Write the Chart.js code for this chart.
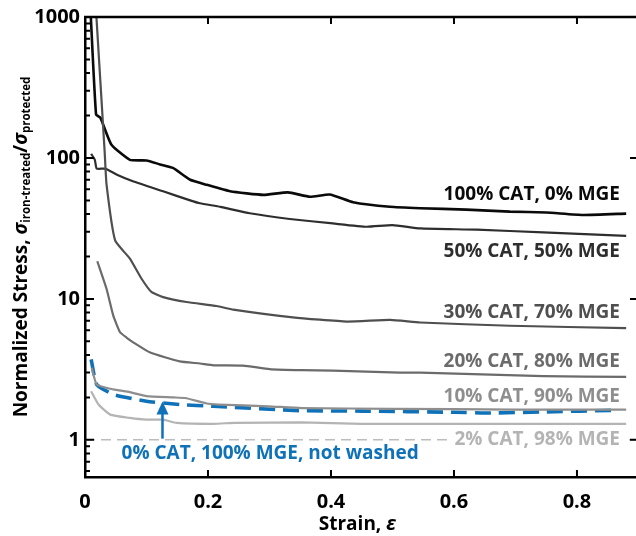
<!DOCTYPE html>
<html>
<head>
<meta charset="utf-8">
<title>Normalized stress vs strain</title>
<script src="https://cdn.jsdelivr.net/npm/chart.js@4/dist/chart.umd.min.js"></script>
<style>
  html, body { margin: 0; padding: 0; background: #fff; overflow: hidden; }
  canvas { display: block; }
</style>
</head>
<body>
<canvas id="stressChart" width="636" height="536"></canvas>
<script>
// Tick values
const strainTicks = [0, 0.2, 0.4, 0.6, 0.8];
const stressTicks = [1, 10, 100, 1000];

// 100% CAT, 0% MGE
const cat100Strain = [0.009, 0.018, 0.025, 0.043, 0.073, 0.100, 0.122, 0.143, 0.171, 0.198, 0.236, 0.290, 0.330, 0.366, 0.398, 0.436, 0.496, 0.545, 0.620, 0.691, 0.750, 0.810, 0.880];
const cat100Stress = [1100, 203, 193, 124, 97, 96, 90, 85, 70, 64.5, 58, 54.7, 57, 53, 55, 48.5, 45, 44, 43, 41.6, 41, 39.4, 40.3];

// 50% CAT, 50% MGE
const cat50Strain = [0.010, 0.016, 0.019, 0.033, 0.052, 0.079, 0.127, 0.171, 0.187, 0.220, 0.268, 0.333, 0.403, 0.458, 0.500, 0.545, 0.637, 0.745, 0.880];
const cat50Stress = [107, 97, 84, 84, 76, 68, 58, 50, 47.7, 45, 40.5, 36.9, 34.3, 32.5, 33.4, 31.6, 31, 29.6, 28];

// 30% CAT, 70% MGE
const cat30Strain = [0.018, 0.032, 0.035, 0.049, 0.073, 0.092, 0.108, 0.127, 0.165, 0.214, 0.241, 0.338, 0.426, 0.496, 0.545, 0.691, 0.880];
const cat30Stress = [1100, 110, 65, 26, 19.3, 13.9, 11.2, 10.3, 9.5, 8.9, 8.4, 7.4, 6.9, 7.1, 6.8, 6.45, 6.2];

// 20% CAT, 80% MGE
const cat20Strain = [0.020, 0.035, 0.046, 0.057, 0.068, 0.079, 0.106, 0.154, 0.187, 0.209, 0.257, 0.300, 0.352, 0.403, 0.512, 0.545, 0.745, 0.880];
const cat20Stress = [18.5, 11.8, 7.6, 5.8, 5.3, 4.9, 4.16, 3.6, 3.48, 3.38, 3.36, 3.18, 3.12, 3.1, 3.0, 3.0, 2.83, 2.8];

// 10% CAT, 90% MGE
const cat10Strain = [0.011, 0.019, 0.046, 0.073, 0.100, 0.144, 0.163, 0.198, 0.217, 0.298, 0.352, 0.500, 0.700, 0.880];
const cat10Stress = [3.25, 2.47, 2.28, 2.18, 2.04, 2.0, 1.98, 1.81, 1.78, 1.73, 1.68, 1.66, 1.64, 1.64];

// 2% CAT, 98% MGE
const cat2Strain = [0.010, 0.022, 0.041, 0.073, 0.100, 0.127, 0.149, 0.209, 0.244, 0.352, 0.450, 0.880];
const cat2Stress = [2.21, 1.78, 1.51, 1.43, 1.39, 1.39, 1.32, 1.30, 1.32, 1.33, 1.30, 1.30];

// 0% CAT, 100% MGE, not washed
const cat0Strain = [0.010, 0.019, 0.046, 0.100, 0.154, 0.209, 0.352, 0.450, 0.600, 0.660, 0.750, 0.863];
const cat0Stress = [3.73, 2.47, 2.10, 1.88, 1.78, 1.73, 1.61, 1.60, 1.57, 1.55, 1.58, 1.62];

// Right-hand labels
const seriesLabels = ['100% CAT, 0% MGE', '50% CAT, 50% MGE', '30% CAT, 70% MGE', '20% CAT, 80% MGE', '10% CAT, 90% MGE', '2% CAT, 98% MGE'];
const seriesLabelY = [54.7, 21.7, 8.04, 3.62, 2.04, 1.0];
const seriesColors = ['#0a0a0a', '#2e2e2e', '#4f4f4f', '#6b6b6b', '#8e8e8e', '#b4b4b4'];
const blueColor = '#0f72b8';
const blueLabel = '0% CAT, 100% MGE, not washed';

const toPoints = (xs, ys) => xs.map((x, i) => ({ x: x, y: ys[i] }));

// inward ticks, top frame, reference line, labels, arrow and axis titles
const decorations = {
    id: 'decorations',
    afterDatasetsDraw(chart) {
        const { ctx, chartArea: area, scales: { x, y } } = chart;
        ctx.save();

        // dashed reference line at 1
        const y1 = y.getPixelForValue(1);
        ctx.strokeStyle = '#bdbdbd';
        ctx.lineWidth = 1.5;
        ctx.setLineDash([10, 6]);
        ctx.beginPath();
        ctx.moveTo(area.left, y1);
        ctx.lineTo(area.right, y1);
        ctx.stroke();
        ctx.setLineDash([]);

        // series labels
        ctx.font = 'bold 19px "Open Sans"';
        ctx.textAlign = 'right';
        ctx.textBaseline = 'middle';
        const lx = x.getPixelForValue(0.87);
        seriesLabels.forEach((text, i) => {
            const ly = y.getPixelForValue(seriesLabelY[i]);
            if (i === seriesLabels.length - 1) {
                const w = ctx.measureText(text).width;
                ctx.fillStyle = '#fff';
                ctx.fillRect(lx - w - 5, ly - 6, w + 9, 12);
            }
            ctx.fillStyle = seriesColors[i];
            ctx.fillText(text, lx, ly);
        });

        // blue label and arrow
        ctx.fillStyle = blueColor;
        ctx.textAlign = 'center';
        ctx.fillText(blueLabel, x.getPixelForValue(0.301), y.getPixelForValue(0.8));
        const ax = x.getPixelForValue(0.126);
        const aTip = y.getPixelForValue(1.87);
        const aEnd = y.getPixelForValue(1.02);
        ctx.strokeStyle = blueColor;
        ctx.lineWidth = 2.5;
        ctx.beginPath();
        ctx.moveTo(ax, aEnd);
        ctx.lineTo(ax, aTip + 8);
        ctx.stroke();
        ctx.beginPath();
        ctx.moveTo(ax, aTip);
        ctx.lineTo(ax - 6, aTip + 13);
        ctx.lineTo(ax + 6, aTip + 13);
        ctx.closePath();
        ctx.fill();

        // frame top
        ctx.strokeStyle = '#000';
        ctx.lineWidth = 2.5;
        ctx.beginPath();
        ctx.moveTo(area.left - 1, area.top);
        ctx.lineTo(area.right, area.top);
        ctx.stroke();

        // ticks
        ctx.lineWidth = 2;
        ctx.beginPath();
        strainTicks.forEach(v => {
            if (v === 0) return;
            const px = x.getPixelForValue(v);
            ctx.moveTo(px, area.bottom);
            ctx.lineTo(px, area.bottom - 7);
            ctx.moveTo(px, area.top);
            ctx.lineTo(px, area.top + 7);
        });
        for (let d = 0.1; d <= 1000; d *= 10) {
            for (let m = 1; m <= 9; m++) {
                const v = d * m;
                if (v < y.min || v > y.max) continue;
                const py = y.getPixelForValue(v);
                const len = m === 1 ? 9 : 5;
                ctx.moveTo(area.left, py);
                ctx.lineTo(area.left + len, py);
                if (m === 1) {
                    ctx.moveTo(area.right, py);
                    ctx.lineTo(area.right - 6, py);
                }
            }
        }
        ctx.stroke();

        // x title
        ctx.fillStyle = '#000';
        ctx.textAlign = 'center';
        ctx.textBaseline = 'middle';
        ctx.font = 'bold 19px "Open Sans"';
        ctx.fillText('Strain, ', (area.left + area.right) / 2 - 8, 525);
        const sw = ctx.measureText('Strain, ').width;
        ctx.font = 'italic bold 19px "Open Sans"';
        ctx.textAlign = 'left';
        ctx.fillText('ε', (area.left + area.right) / 2 - 8 + sw / 2, 525);

        // y title with subscripts
        const parts = [
            { t: 'Normalized Stress, ', f: 'bold 19px "Open Sans"', dy: 0 },
            { t: 'σ', f: 'italic bold 19px "Open Sans"', dy: 0 },
            { t: 'iron-treated', f: 'bold 11.5px "Open Sans"', dy: 5 },
            { t: '/', f: 'bold 19px "Open Sans"', dy: 0 },
            { t: 'σ', f: 'italic bold 19px "Open Sans"', dy: 0 },
            { t: 'protected', f: 'bold 11.5px "Open Sans"', dy: 5 }
        ];
        let total = 0;
        parts.forEach(p => { ctx.font = p.f; p.w = ctx.measureText(p.t).width; total += p.w; });
        ctx.translate(22, (area.top + area.bottom) / 2);
        ctx.rotate(-Math.PI / 2);
        ctx.textAlign = 'left';
        let cx = -total / 2;
        parts.forEach(p => {
            ctx.font = p.f;
            ctx.fillText(p.t, cx, p.dy);
            cx += p.w;
        });
        ctx.restore();
    }
};

Chart.defaults.font.family = '"Open Sans"';

new Chart(document.getElementById('stressChart'), {
    type: 'line',
    data: {
        datasets: [
            { data: toPoints(cat2Strain, cat2Stress), borderColor: seriesColors[5], borderWidth: 2.2 },
            { data: toPoints(cat10Strain, cat10Stress), borderColor: seriesColors[4], borderWidth: 2.2 },
            { data: toPoints(cat20Strain, cat20Stress), borderColor: seriesColors[3], borderWidth: 2.2 },
            { data: toPoints(cat30Strain, cat30Stress), borderColor: seriesColors[2], borderWidth: 2.2 },
            { data: toPoints(cat50Strain, cat50Stress), borderColor: seriesColors[1], borderWidth: 2.2 },
            { data: toPoints(cat100Strain, cat100Stress), borderColor: seriesColors[0], borderWidth: 2.6 },
            { data: toPoints(cat0Strain, cat0Stress), borderColor: blueColor, borderWidth: 3.6, borderDash: [16, 8] }
        ]
    },
    options: {
        responsive: false,
        animation: false,
        devicePixelRatio: 1,
        elements: { point: { radius: 0 }, line: { tension: 0.15, fill: false } },
        layout: { padding: { top: 17, right: 0, left: 0, bottom: 0 } },
        plugins: { legend: { display: false }, tooltip: { enabled: false } },
        scales: {
            x: {
                type: 'linear',
                min: 0,
                max: 0.896,
                afterFit: s => { s.height = 59; },
                afterBuildTicks: s => { s.ticks = strainTicks.map(v => ({ value: v })); },
                grid: { display: false, drawTicks: false },
                border: { display: true, color: '#000', width: 2.5 },
                ticks: {
                    padding: 13,
                    color: '#000',
                    font: { size: 20, weight: 'bold' },
                    callback: v => (v === 0 ? '0' : v.toFixed(1))
                }
            },
            y: {
                type: 'logarithmic',
                min: 0.545,
                max: 1000,
                afterFit: s => { s.width = 85; },
                afterBuildTicks: s => { s.ticks = stressTicks.map(v => ({ value: v })); },
                grid: { display: false, drawTicks: false },
                border: { display: true, color: '#000', width: 2.5 },
                ticks: {
                    padding: 5,
                    color: '#000',
                    font: { size: 20, weight: 'bold' },
                    callback: v => String(v)
                }
            }
        }
    },
    plugins: [decorations]
});
</script>
</body>
</html>
